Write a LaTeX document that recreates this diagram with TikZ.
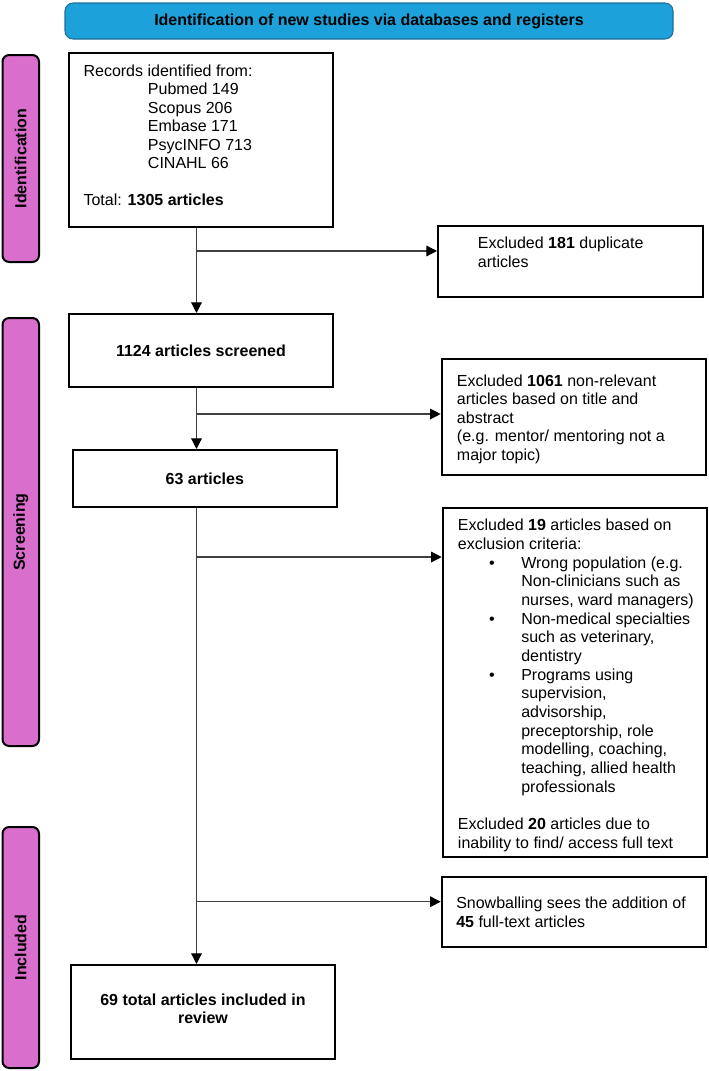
\documentclass[tikz,border=0pt]{standalone}
\usepackage{fontspec}
\setmainfont{Liberation Sans}
\usetikzlibrary{fit,arrows.meta}
\definecolor{hdrblue}{RGB}{29,161,218}
\definecolor{hdrborder}{RGB}{30,110,150}
\definecolor{barpink}{RGB}{217,110,205}
\tikzset{
  box/.style={draw=black, line width=1.5pt, inner sep=0pt},
  conn/.style={draw=black!75, line width=0.9pt},
  arr/.style={conn, -{Triangle[length=8pt,width=8pt,color=black]}},
  txt/.style={inner sep=0pt, anchor=north west, align=left, font=\fontsize{12}{13.8}\selectfont},
  ctxt/.style={inner sep=0pt, align=center, font=\fontsize{12}{13.8}\selectfont\bfseries},
  bar/.style={draw=black, line width=1.5pt, fill=barpink, rounded corners=5pt, inner sep=0pt},
  barlabel/.style={rotate=90, inner sep=0pt, font=\fontsize{12}{14}\selectfont\bfseries},
}
\begin{document}
\begin{tikzpicture}[x=0.75pt,y=-0.75pt]
\useasboundingbox (0,0) rectangle (709,1071);
% header
\node[draw=hdrborder, line width=0.8pt, fill=hdrblue, rounded corners=6pt, inner sep=0pt, fit={(65,3) (673,39)}] (hdr) {};
\node[ctxt] at (hdr.center) {Identification of new studies via databases and registers};
% side bars
\node[bar, fit={(2.5,55) (39,262)}] (idbar) {};
\node[barlabel] at (idbar.center) {Identification};
\node[bar, fit={(2.5,318) (39,746)}] (scbar) {};
\node[barlabel] at (scbar.center) {Screening};
\node[bar, fit={(2.5,827) (39,1068)}] (inbar) {};
\node[barlabel] at (inbar.center) {Included};
% boxes
\node[box, fit={(69,53) (333,227)}] (rec) {};
\node[txt] (rectxt) at (83.3,64.7) {Records identified from:\\
\hspace*{48.3pt}Pubmed 149\\
\hspace*{48.3pt}Scopus 206\\
\hspace*{48.3pt}Embase 171\\
\hspace*{48.3pt}PsycINFO 713\\
\hspace*{48.3pt}CINAHL 66\\[13.8pt]
Total: \textbf{1305 articles}};
\node[box, fit={(438,226) (703,297)}] (dup) {};
\node[txt] (duptxt) at (477.7,237) {Excluded \textbf{181} duplicate\\articles};
\node[box, fit={(69,314) (333,387)}] (scr) {};
\node[ctxt] at (scr.center) {1124 articles screened};
\node[box, fit={(441.7,359) (705.7,475)}] (ex1) {};
\node[txt] (ex1txt) at (456.7,374.7) {Excluded \textbf{1061} non-relevant\\
articles based on title and\\
abstract\\
(e.g. mentor/ mentoring not a\\
major topic)};
\node[box, fit={(72.7,450) (337,506.7)}] (n63) {};
\node[ctxt] at (n63.center) {63 articles};
\node[box, fit={(442.7,507.7) (707,857)}] (ex2) {};
\node[txt, font=\fontsize{12}{14}\selectfont] (ex2txt) at (457.7,519) {Excluded \textbf{19} articles based on\\
exclusion criteria:\\
\hspace*{23.4pt}\makebox[24.1pt][l]{\textbullet}Wrong population (e.g.\\
\hspace*{47.5pt}Non-clinicians such as\\
\hspace*{47.5pt}nurses, ward managers)\\
\hspace*{23.4pt}\makebox[24.1pt][l]{\textbullet}Non-medical specialties\\
\hspace*{47.5pt}such as veterinary,\\
\hspace*{47.5pt}dentistry\\
\hspace*{23.4pt}\makebox[24.1pt][l]{\textbullet}Programs using\\
\hspace*{47.5pt}supervision,\\
\hspace*{47.5pt}advisorship,\\
\hspace*{47.5pt}preceptorship, role\\
\hspace*{47.5pt}modelling, coaching,\\
\hspace*{47.5pt}teaching, allied health\\
\hspace*{47.5pt}professionals\\[14pt]
Excluded \textbf{20} articles due to\\
inability to find/ access full text};
\node[box, fit={(441.7,876.7) (705.7,946.7)}] (snow) {};
\node[txt] (snowtxt) at (456,897) {Snowballing sees the addition of\\\textbf{45} full-text articles};
\node[box, fit={(71,965) (335,1059)}] (fin) {};
\node[ctxt] at (203,1009) {69 total articles included in\\review};
% connectors
\coordinate (sp) at (196.5,0);
\coordinate (b1) at (196.5,251);
\coordinate (b2) at (196.5,414);
\coordinate (b3) at (196.5,557);
\coordinate (b4) at (196.5,901.7);
\draw[arr] (rec.south -| sp) -- (scr.north -| sp);
\draw[arr] (b1) -- (b1 -| dup.west);
\draw[arr] (scr.south -| sp) -- (n63.north -| sp);
\draw[arr] (b2) -- (b2 -| ex1.west);
\draw[arr] (n63.south -| sp) -- (fin.north -| sp);
\draw[arr] (b3) -- (b3 -| ex2.west);
\draw[arr] (b4) -- (b4 -| snow.west);
\end{tikzpicture}
\end{document}
